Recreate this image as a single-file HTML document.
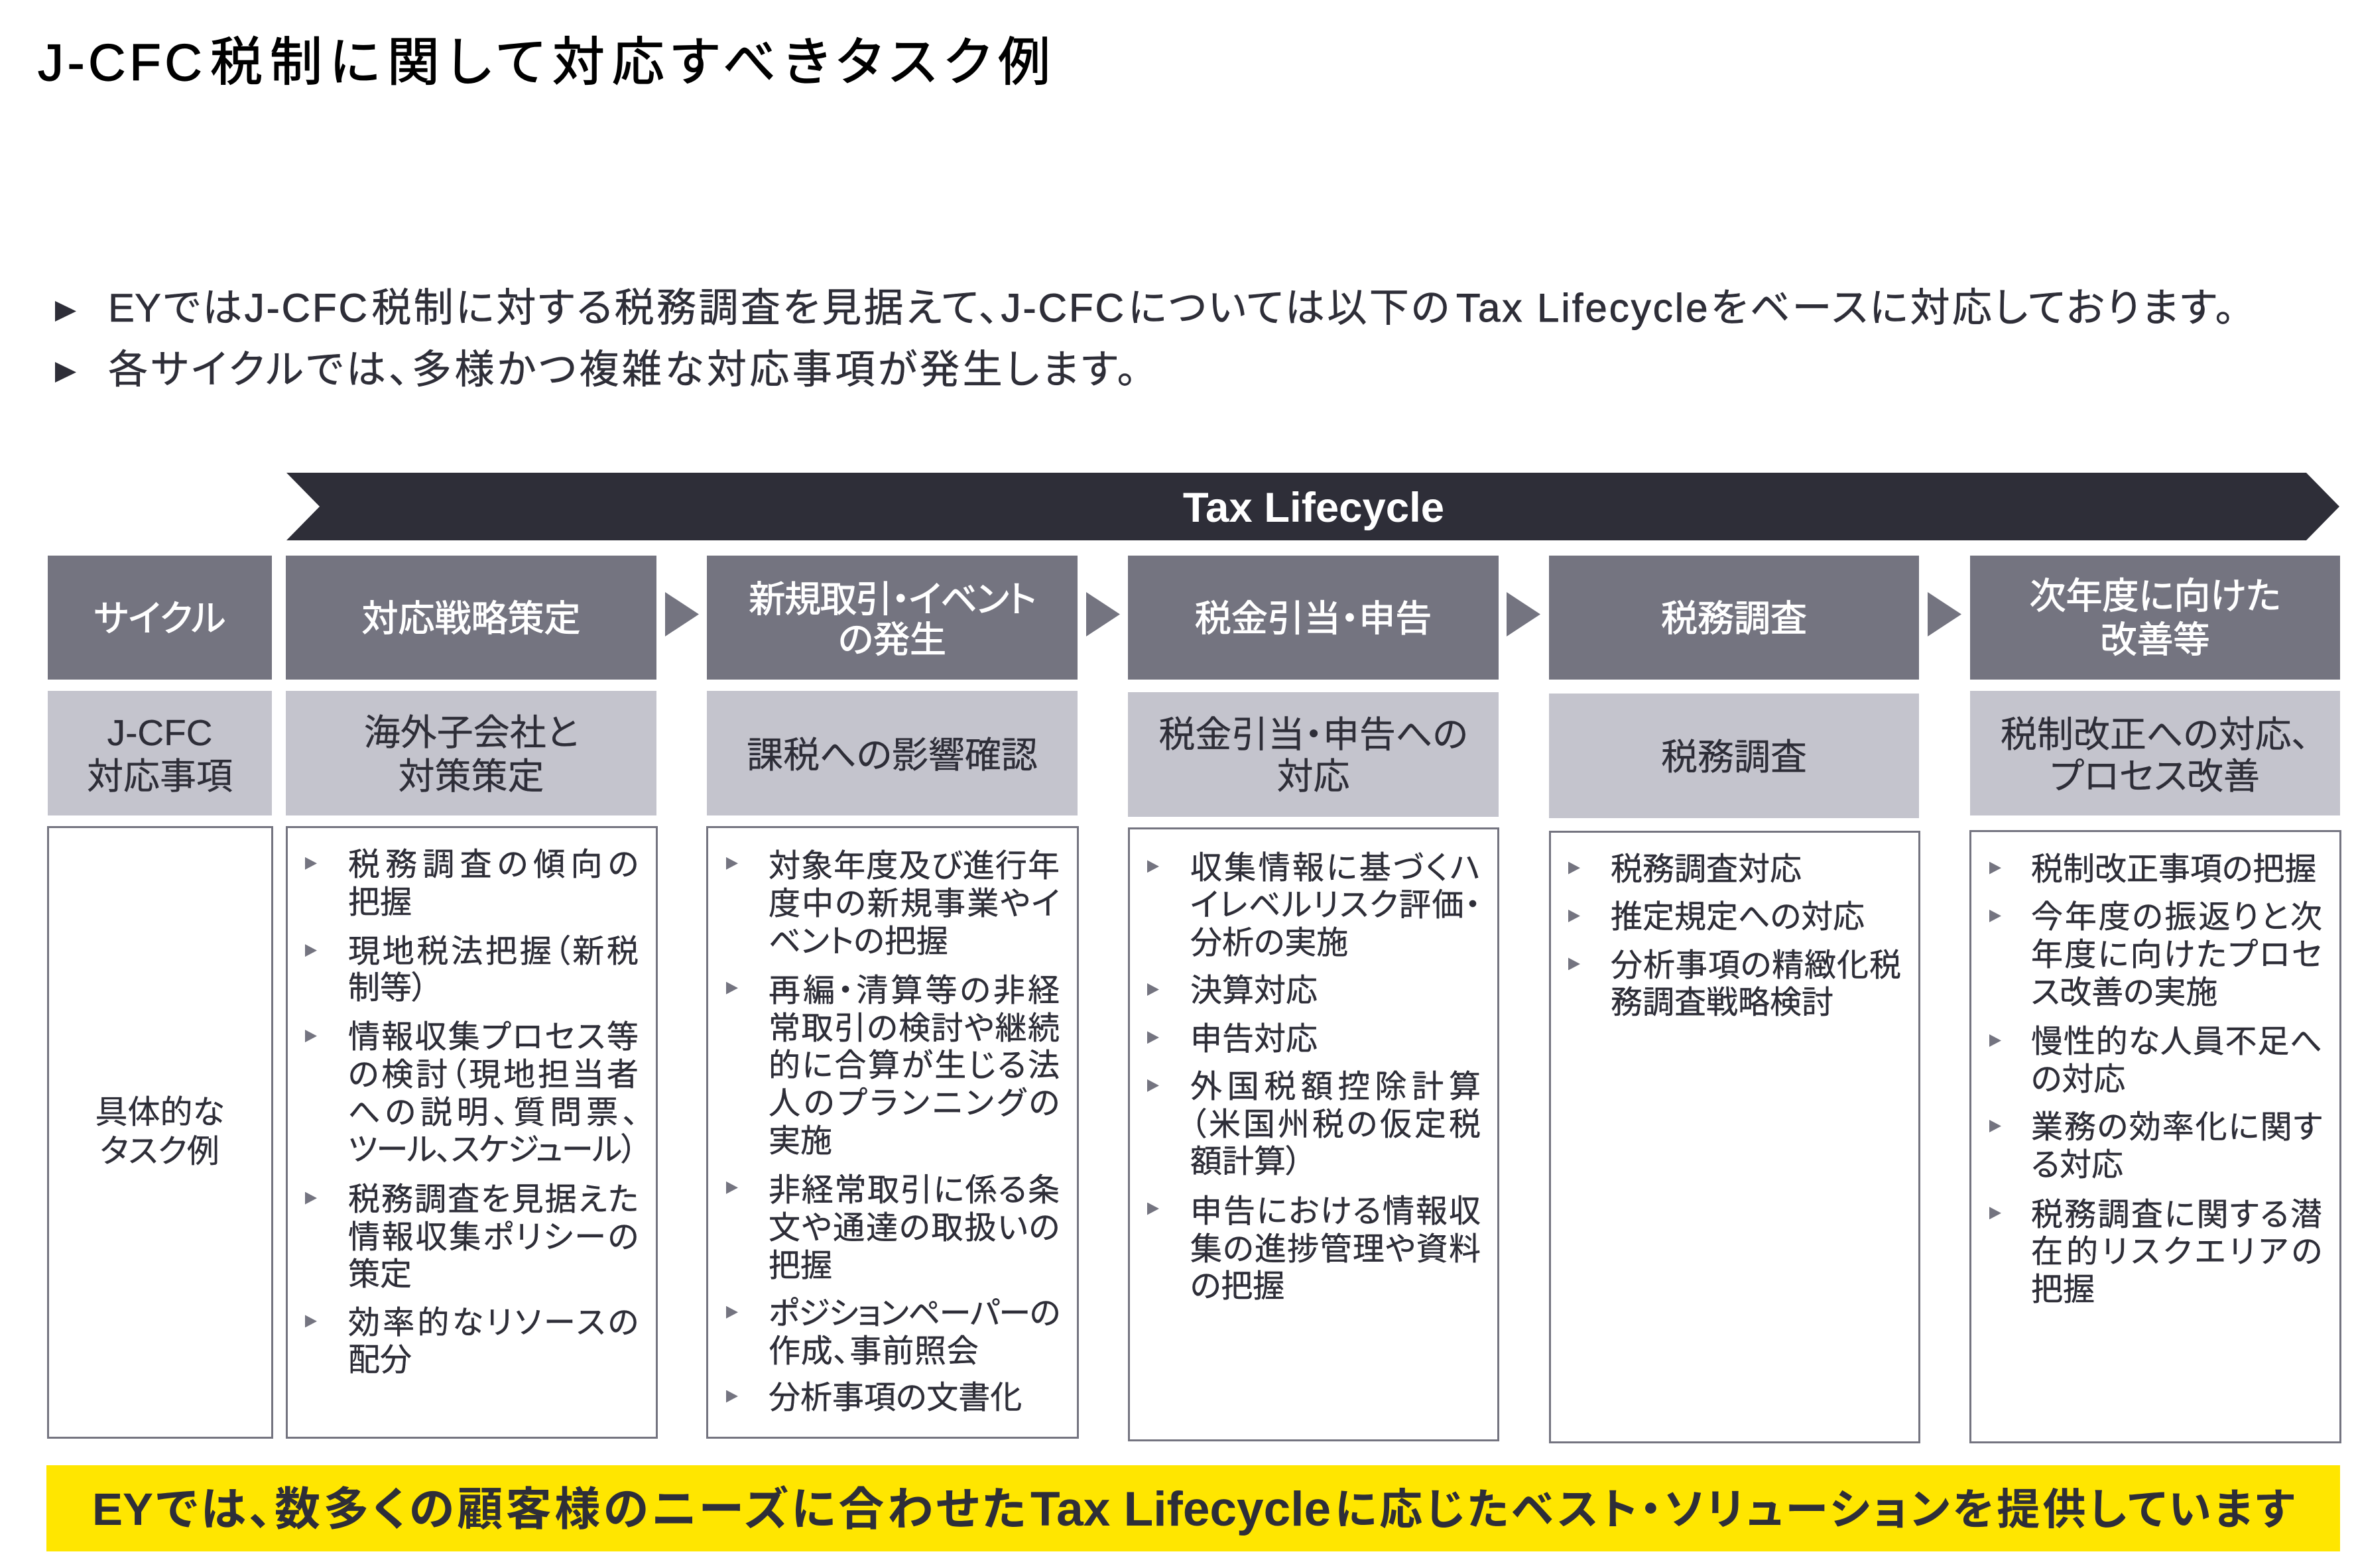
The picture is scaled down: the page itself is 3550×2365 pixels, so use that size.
<!DOCTYPE html>
<html lang="ja"><head><meta charset="utf-8"><title>J-CFC税制に関して対応すべきタスク例</title>
<style>
html,body{margin:0;padding:0;background:#fff}
#p{position:relative;width:3550px;height:2365px;overflow:hidden;background:#fff;color:#2e2e38;font-family:"Liberation Sans","Noto Sans CJK JP",sans-serif;font-feature-settings:"palt"}
#p div{position:absolute;box-sizing:border-box}
.h{background:#747480;top:838px;height:187px}
.m{background:#c4c4cd;height:188px}
.b{background:#fff;border:3.5px solid #747480}
.a{width:51px;height:67px;top:893px;background:#747480;clip-path:polygon(0 0,100% 50%,0 100%)}
.t{white-space:nowrap;text-align:center;line-height:60px;height:60px;top:calc(var(--y)*2.264px - 29.5px);-webkit-text-stroke:.3px #2e2e38}
.hw{color:#fff;font-size:55px;-webkit-text-stroke:1.1px #fff}
.mt{font-size:55px}
.l{white-space:nowrap;font-size:48px;line-height:60px;height:60px;top:calc(var(--y)*2.264px - 29px);-webkit-text-stroke:.4px #2e2e38}
.j{text-align:justify;text-align-last:justify;text-justify:inter-character}
.c1{left:525px;width:438px}.c2{left:1159px;width:439px}.c3{left:1795px;width:438px}.c4{left:2429px;width:438px}.c5{left:3063px;width:439px}
.d{width:18px;height:19px;background:#747480;clip-path:polygon(0 0,100% 50%,0 100%);top:calc(var(--y)*2.264px - 9px)}
.k0{left:72px;width:338px}.k1{left:431px;width:559px}.k2{left:1066px;width:559px}.k3{left:1701px;width:559px}.k4{left:2336px;width:558px}.k5{left:2971px;width:558px}
.in{height:80px;line-height:80px;font-size:60px;white-space:nowrap;-webkit-text-stroke:.5px #2e2e38}
.in span{letter-spacing:3px;-webkit-text-stroke:.9px #2e2e38}
.ti{height:90px;line-height:88px;color:#000;white-space:nowrap;-webkit-text-stroke:1.3px #000}
.ft{top:2232px;height:90px;line-height:90px;font-weight:bold;white-space:nowrap}
</style></head><body><div id="p">

<div class="ti" style="left:57px;top:50px;font-size:78px;letter-spacing:5.6px">J-CFC</div>
<div class="ti j" style="left:317px;top:50px;width:1267px;font-size:79px">税制に関して対応すべきタスク例</div>

<div style="left:83px;top:454px;width:32px;height:31px;background:#2e2e38;clip-path:polygon(0 0,100% 50%,0 100%)"></div>
<div style="left:83px;top:546px;width:32px;height:31px;background:#2e2e38;clip-path:polygon(0 0,100% 50%,0 100%)"></div>
<div class="in j" style="left:163px;top:425px;width:2023px">EYでは<span>J-CFC</span>税制に対する税務調査を見据えて、<span>J-CFC</span>については以下の</div>
<div class="in" style="left:2196px;top:425px;letter-spacing:3px;-webkit-text-stroke:.9px #2e2e38">Tax Lifecycle</div>
<div class="in j" style="left:2580px;top:425px;width:790px">をベースに対応しております。</div>
<div class="in j" style="left:163px;top:518px;width:1551px">各サイクルでは、多様かつ複雑な対応事項が発生します。</div>

<svg style="position:absolute;left:0;top:0" width="3550" height="2365"><polygon points="432,713 3478,713 3528,764 3478,815 432,815 482,764" fill="#2e2e38"/></svg>
<div style="left:1684px;width:594px;top:724px;height:84px;line-height:84px;text-align:center;color:#fff;font-weight:bold;font-size:63.5px">Tax Lifecycle</div>

<div class="h k0"></div><div class="h k1"></div><div class="h k2"></div><div class="h k3"></div><div class="h k4"></div><div class="h k5"></div>
<div class="a" style="left:1003px"></div><div class="a" style="left:1638px"></div><div class="a" style="left:2272px"></div><div class="a" style="left:2907px"></div>

<div class="t hw k0" style="--y:412">サイクル</div>
<div class="t hw k1" style="--y:412">対応戦略策定</div>
<div class="t hw k2" style="--y:399;letter-spacing:-1.2px">新規取引・イベント</div>
<div class="t hw k2" style="--y:426">の発生</div>
<div class="t hw k3" style="--y:412">税金引当・申告</div>
<div class="t hw k4" style="--y:412">税務調査</div>
<div class="t hw k5" style="--y:397">次年度に向けた</div>
<div class="t hw k5" style="--y:426">改善等</div>

<div class="m k0" style="top:1042px"></div><div class="m k1" style="top:1042px"></div><div class="m k2" style="top:1042px"></div><div class="m k3" style="top:1044px"></div><div class="m k4" style="top:1046px"></div><div class="m k5" style="top:1042px"></div>

<div class="t mt k0" style="--y:488">J-CFC</div>
<div class="t mt k0" style="--y:517">対応事項</div>
<div class="t mt k1" style="--y:488">海外子会社と</div>
<div class="t mt k1" style="--y:517">対策策定</div>
<div class="t mt k2" style="--y:503">課税への影響確認</div>
<div class="t mt k3" style="--y:489">税金引当・申告への</div>
<div class="t mt k3" style="--y:517">対応</div>
<div class="t mt k4" style="--y:504">税務調査</div>
<div class="t mt k5" style="--y:489">税制改正への対応、</div>
<div class="t mt k5" style="--y:517">プロセス改善</div>

<div class="b" style="left:71px;width:341px;top:1246px;height:924px"></div>
<div class="b" style="left:431px;width:561px;top:1246px;height:924px"></div>
<div class="b" style="left:1065px;width:562px;top:1246px;height:924px"></div>
<div class="b" style="left:1701px;width:560px;top:1248px;height:926px"></div>
<div class="b" style="left:2336px;width:560px;top:1253px;height:924px"></div>
<div class="b" style="left:2970px;width:561px;top:1252px;height:925px"></div>

<div class="t k0" style="--y:741;font-size:49px">具体的な</div>
<div class="t k0" style="--y:767;font-size:49px">タスク例</div>

<!-- col 1 -->
<div class="d" style="left:460px;--y:575"></div>
<div class="l j c1" style="--y:576">税務調査の傾向の</div>
<div class="l c1" style="--y:601">把握</div>
<div class="d" style="left:460px;--y:633"></div>
<div class="l j c1" style="--y:634">現地税法把握（新税</div>
<div class="l c1" style="--y:658">制等）</div>
<div class="d" style="left:460px;--y:690"></div>
<div class="l j c1" style="--y:691">情報収集プロセス等</div>
<div class="l j c1" style="--y:716">の検討（現地担当者</div>
<div class="l j c1" style="--y:741">への説明、質問票、</div>
<div class="l c1" style="--y:766;letter-spacing:-1.3px">ツール、スケジュール）</div>
<div class="d" style="left:460px;--y:798"></div>
<div class="l j c1" style="--y:799">税務調査を見据えた</div>
<div class="l j c1" style="--y:824">情報収集ポリシーの</div>
<div class="l c1" style="--y:849">策定</div>
<div class="d" style="left:460px;--y:880"></div>
<div class="l j c1" style="--y:881">効率的なリソースの</div>
<div class="l c1" style="--y:906">配分</div>

<!-- col 2 -->
<div class="d" style="left:1095px;--y:575"></div>
<div class="l j c2" style="--y:577">対象年度及び進行年</div>
<div class="l j c2" style="--y:602">度中の新規事業やイ</div>
<div class="l c2" style="--y:627">ベントの把握</div>
<div class="d" style="left:1095px;--y:658"></div>
<div class="l j c2" style="--y:660">再編・清算等の非経</div>
<div class="l j c2" style="--y:685">常取引の検討や継続</div>
<div class="l j c2" style="--y:710">的に合算が生じる法</div>
<div class="l j c2" style="--y:735">人のプランニングの</div>
<div class="l c2" style="--y:760">実施</div>
<div class="d" style="left:1095px;--y:791"></div>
<div class="l j c2" style="--y:793">非経常取引に係る条</div>
<div class="l j c2" style="--y:818">文や通達の取扱いの</div>
<div class="l c2" style="--y:843">把握</div>
<div class="d" style="left:1095px;--y:874"></div>
<div class="l j c2" style="--y:875;letter-spacing:-1.2px">ポジションペーパーの</div>
<div class="l c2" style="--y:900;letter-spacing:.8px">作成、事前照会</div>
<div class="d" style="left:1095px;--y:930"></div>
<div class="l c2" style="--y:931">分析事項の文書化</div>

<!-- col 3 -->
<div class="d" style="left:1730px;--y:577"></div>
<div class="l j c3" style="--y:578">収集情報に基づくハ</div>
<div class="l j c3" style="--y:603">イレベルリスク評価・</div>
<div class="l c3" style="--y:628">分析の実施</div>
<div class="d" style="left:1730px;--y:659"></div>
<div class="l c3" style="--y:660">決算対応</div>
<div class="d" style="left:1730px;--y:691"></div>
<div class="l c3" style="--y:692">申告対応</div>
<div class="d" style="left:1730px;--y:723"></div>
<div class="l j c3" style="--y:724">外国税額控除計算</div>
<div class="l j c3" style="--y:749">（米国州税の仮定税</div>
<div class="l c3" style="--y:774">額計算）</div>
<div class="d" style="left:1730px;--y:805"></div>
<div class="l j c3" style="--y:807">申告における情報収</div>
<div class="l j c3" style="--y:832">集の進捗管理や資料</div>
<div class="l c3" style="--y:857">の把握</div>

<!-- col 4 -->
<div class="d" style="left:2365px;--y:578"></div>
<div class="l c4" style="--y:579">税務調査対応</div>
<div class="d" style="left:2365px;--y:610"></div>
<div class="l c4" style="--y:611">推定規定への対応</div>
<div class="d" style="left:2365px;--y:642"></div>
<div class="l j c4" style="--y:643">分析事項の精緻化税</div>
<div class="l c4" style="--y:668">務調査戦略検討</div>

<!-- col 5 -->
<div class="d" style="left:3000px;--y:578"></div>
<div class="l c5" style="--y:579">税制改正事項の把握</div>
<div class="d" style="left:3000px;--y:610"></div>
<div class="l j c5" style="--y:611">今年度の振返りと次</div>
<div class="l j c5" style="--y:636">年度に向けたプロセ</div>
<div class="l c5" style="--y:661">ス改善の実施</div>
<div class="d" style="left:3000px;--y:693"></div>
<div class="l j c5" style="--y:694">慢性的な人員不足へ</div>
<div class="l c5" style="--y:719">の対応</div>
<div class="d" style="left:3000px;--y:750"></div>
<div class="l j c5" style="--y:751">業務の効率化に関す</div>
<div class="l c5" style="--y:776">る対応</div>
<div class="d" style="left:3000px;--y:808"></div>
<div class="l j c5" style="--y:809">税務調査に関する潜</div>
<div class="l j c5" style="--y:834">在的リスクエリアの</div>
<div class="l c5" style="--y:859">把握</div>

<div style="left:70px;top:2210px;width:3459px;height:130px;background:#ffe600"></div>
<div class="ft j" style="left:139px;width:1408px;font-size:69px">EYでは、数多くの顧客様のニーズに合わせた</div>
<div class="ft" style="left:1554px;font-size:73px">Tax Lifecycle</div>
<div class="ft j" style="left:2013px;width:1447px;font-size:65px">に応じたベスト・ソリューションを提供しています</div>

</div></body></html>
